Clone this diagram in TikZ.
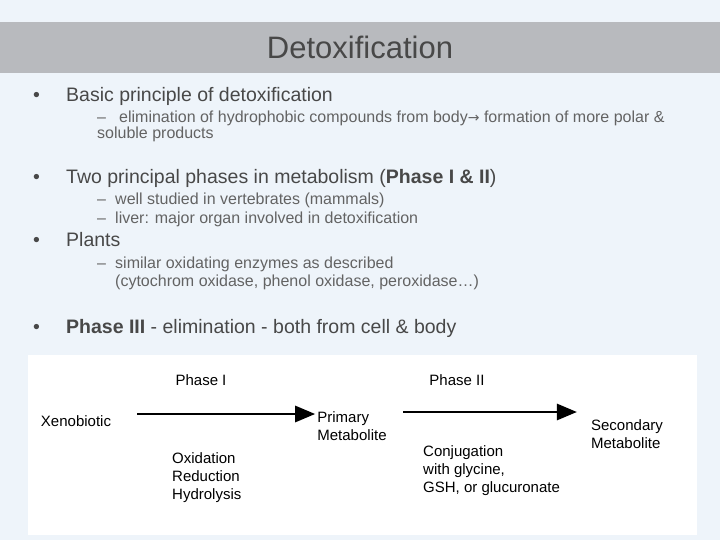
\documentclass[tikz,border=0pt]{standalone}
\usepackage{fontspec}
\setmainfont{Liberation Sans}
\newfontfamily\symfont{DejaVu Sans}
\usetikzlibrary{arrows.meta,positioning}
\definecolor{titlegray}{RGB}{184,186,190}
\definecolor{bgblue}{RGB}{238,244,250}
\definecolor{textgray}{RGB}{72,72,72}
\begin{document}
\begin{tikzpicture}[x=1pt,y=-1pt,
    bullet/.style={anchor=base west, font=\fontsize{19.5}{22}\selectfont, text=textgray, inner sep=0pt},
    subtext/.style={anchor=base west, font=\fontsize{16}{18}\selectfont, text=textgray!85, inner sep=0pt, align=left},
    label/.style={font=\fontsize{15}{18}\selectfont, inner sep=0pt, align=left},
    flow/.style={-{Triangle[length=20pt,width=16pt]}, line width=2.8pt}
]
    % Background
    \fill[bgblue] (0,0) rectangle (720,540);
    \fill[white] (28,355) rectangle (697,535);
    \fill[titlegray] (0,22) rectangle (720,73);
    \node[font=\fontsize{31}{33}\selectfont, text=textgray] (title) at (360,47) {Detoxification};

    % Bullets
    \foreach \y/\n in {102/1,184/2,247/3,333/4}
        \node[bullet] (dot\n) at (33,\y) {•};
    \node[bullet] (b1) at (66,102) {Basic principle of detoxification};
    \node[bullet] (b2) at (66,184) {Two principal phases in metabolism (\textbf{Phase I \& II})};
    \node[bullet] (b3) at (66,247) {Plants};
    \node[bullet] (b4) at (66,333) {\textbf{Phase III} - elimination - both from cell \& body};
    \foreach \y/\n in {123/1,205/2,223/3,268/4}
        \node[subtext] (dash\n) at (97,\y) {–};
    \node[subtext] (s1) at (119,123) {elimination of hydrophobic compounds from body{\symfont\fontsize{14}{16}\selectfont→} formation of more polar \&};
    \node[subtext] (s1b) at (97,139) {soluble products};
    \node[subtext] (s2) at (115,205) {well studied in vertebrates (mammals)};
    \node[subtext] (s3) at (115,223) {liver: major organ involved in detoxification};
    \node[subtext] (s4) at (115,268) {similar oxidating enzymes as described};
    \node[subtext] (s4b) at (115,286) {(cytochrom oxidase, phenol oxidase, peroxidase…)};

    % Scheme
    \node[label] (xeno) at (76,421) {Xenobiotic};
    \node[label] (prim) at (352,426) {Primary\\Metabolite};
    \node[label] (sec) at (627,434) {Secondary\\Metabolite};
    \node[label] (ph1) at (201,380) {Phase I};
    \node[label] (ph2) at (457,380) {Phase II};
    \node[label, anchor=north west] (ox) at (172,452) {Oxidation\\Reduction\\Hydrolysis};
    \node[label, anchor=north west] (conj) at (423,445) {Conjugation\\with glycine,\\GSH, or glucuronate};
    \coordinate (a1) at (137,414);
    \coordinate (a2) at (403,412);
    \draw[flow] (a1) -- ([xshift=-2pt]prim.west |- a1);
    \draw[flow] (a2) -- ([xshift=-14pt]sec.west |- a2);
\end{tikzpicture}
\end{document}
